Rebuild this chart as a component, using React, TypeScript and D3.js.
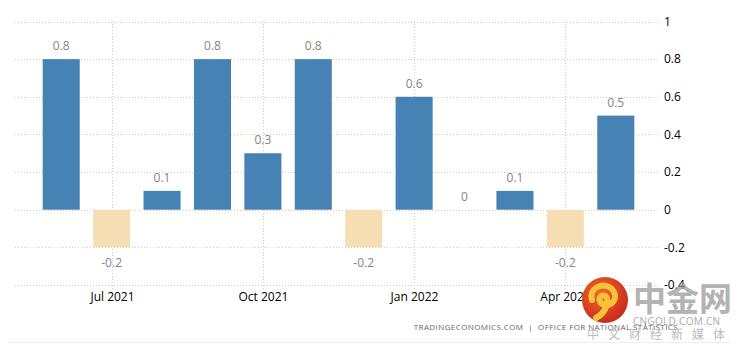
import React from 'react';
import * as d3 from 'd3';

const months = ['2021-06', '2021-07', '2021-08', '2021-09', '2021-10', '2021-11', '2021-12', '2022-01', '2022-02', '2022-03', '2022-04', '2022-05'];
const values = [0.8, -0.2, 0.1, 0.8, 0.3, 0.8, -0.2, 0.6, 0, 0.1, -0.2, 0.5];
const xTicks = ['2021-07', '2021-10', '2022-01', '2022-04'];
const xTickLabels = ['Jul 2021', 'Oct 2021', 'Jan 2022', 'Apr 2022'];
const yTicks = [1, 0.8, 0.6, 0.4, 0.2, 0, -0.2, -0.4];

const W = 739;
const H = 352;
const FONT = '"Open Sans", sans-serif';

// plain hyphen minus like the source
const fmt = (v: number) => String(+v.toFixed(1));

export default function App() {
  const x = d3.scaleBand<string>().domain(months).range([36, 641]).paddingInner(0.265).paddingOuter(0.1325);
  const y = d3.scaleLinear().domain([-0.4, 1]).range([285, 21.5]);
  const gridX0 = 15;
  const gridX1 = 660;

  return (
    <div style={{ margin: -8 }}>
      <svg width={W} height={H} style={{ display: 'block', background: '#fff' }}>
        <line x1={0} x2={W} y1={1} y2={1} stroke="#e3e3e3" strokeWidth={2} />
        <line x1={0} x2={W} y1={342.5} y2={342.5} stroke="#eeeeee" strokeWidth={1} />

        {/* horizontal grid + right axis */}
        {yTicks.map(t => (
          <g key={t}>
            <line x1={gridX0} x2={gridX1} y1={Math.round(y(t)) + 0.5} y2={Math.round(y(t)) + 0.5}
              stroke="#cccccc" strokeDasharray="1,2" />
            <text x={664} y={y(t)} dy="0.35em" fontFamily={FONT} fontSize={12} fill="#000">{fmt(t)}</text>
          </g>
        ))}

        {/* vertical grid + bottom axis */}
        {xTicks.map((m, i) => {
          const cx = Math.round((x(m) ?? 0) + x.bandwidth() / 2) + 0.5;
          return (
            <g key={m}>
              <line x1={cx} x2={cx} y1={21} y2={289} stroke="#cccccc" strokeDasharray="1,2" />
              <text x={cx} y={297} dy="0.35em" textAnchor="middle" fontFamily={FONT} fontSize={12} fill="#000">{xTickLabels[i]}</text>
            </g>
          );
        })}

        {/* bars */}
        {months.map((m, i) => {
          const v = values[i];
          const y0 = y(0);
          const yv = y(v);
          return (
            <rect key={m} x={x(m)} width={x.bandwidth()} y={Math.min(y0, yv)} height={Math.abs(y0 - yv)}
              fill={v >= 0 ? '#4682B4' : '#F5DEB3'} />
          );
        })}

        {/* value labels */}
        {months.map((m, i) => {
          const v = values[i];
          const cx = (x(m) ?? 0) + x.bandwidth() / 2;
          const ly = v >= 0 ? y(v) - 13 : y(v) + 15;
          return (
            <text key={m} x={cx} y={ly} dy="0.35em" textAnchor="middle" fontFamily={FONT} fontSize={12} fill="#858585">{fmt(v)}</text>
          );
        })}

        <text x={678} y={327} dy="0.35em" textAnchor="end" fontFamily={FONT} fontSize={8} fill="#666"
          letterSpacing={0.4} style={{ whiteSpace: 'pre' }}>
          {'TRADINGECONOMICS.COM  |  OFFICE FOR NATIONAL STATISTICS'}
        </text>

        {/* watermark */}
        <defs>
          <radialGradient id="wm" cx="40%" cy="35%" r="70%">
            <stop offset="0%" stopColor="#f06a2a" />
            <stop offset="100%" stopColor="#c8261a" />
          </radialGradient>
        </defs>
        <circle cx={605} cy={300} r={23} fill="url(#wm)" />
        <path d="M592,300 C588,286 608,280 614,292 C619,302 606,310 600,302 C597,296 605,293 607,298 C608,306 604,314 596,318"
          fill="none" stroke="#f5c23a" strokeWidth={6} strokeLinecap="round" />
        <text x={633} y={311} fontFamily='"Noto Sans CJK SC", sans-serif' fontSize={33} fontWeight={700} fill="#9a9a9a" opacity={0.75}>中金网</text>
        <text x={633} y={321} dy="0.35em" fontFamily={FONT} fontSize={10} fill="#aaa" letterSpacing={0.3}>CNGOLD.COM.CN</text>
        <text x={587} y={335} dy="0.35em" fontFamily='"Noto Sans CJK SC", sans-serif' fontSize={12} fill="#bbb" letterSpacing={9}>中文财经新媒体</text>
      </svg>
    </div>
  );
}
